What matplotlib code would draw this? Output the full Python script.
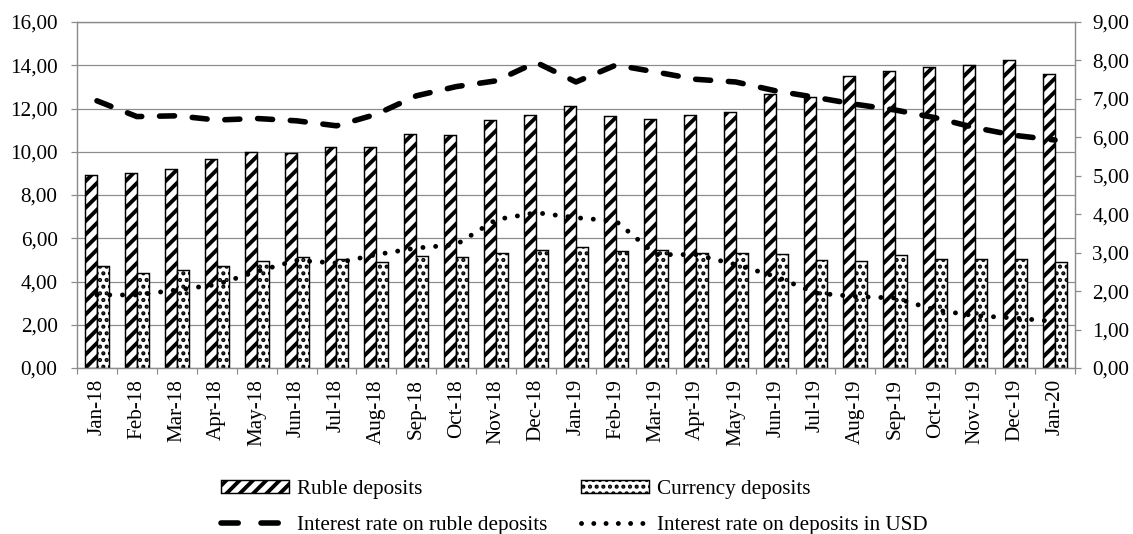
import numpy as np
import matplotlib as mpl
import matplotlib.pyplot as plt
from matplotlib.lines import Line2D
from matplotlib.patches import Patch

months = ['Jan-18', 'Feb-18', 'Mar-18', 'Apr-18', 'May-18', 'Jun-18', 'Jul-18', 'Aug-18',
          'Sep-18', 'Oct-18', 'Nov-18', 'Dec-18', 'Jan-19', 'Feb-19', 'Mar-19', 'Apr-19',
          'May-19', 'Jun-19', 'Jul-19', 'Aug-19', 'Sep-19', 'Oct-19', 'Nov-19', 'Dec-19', 'Jan-20']
ruble_dep = [8.93, 9.04, 9.21, 9.66, 9.99, 9.95, 10.23, 10.20, 10.82, 10.79, 11.48, 11.71, 12.10,
             11.67, 11.51, 11.70, 11.85, 12.69, 12.51, 13.49, 13.72, 13.90, 14.00, 14.24, 13.61]
currency_dep = [4.72, 4.41, 4.54, 4.72, 4.95, 5.14, 5.05, 4.89, 5.19, 5.12, 5.31, 5.46, 5.59,
                5.43, 5.45, 5.31, 5.31, 5.26, 5.00, 4.97, 5.23, 5.05, 5.03, 5.03, 4.88]
rate_rub = [6.95, 6.54, 6.56, 6.45, 6.49, 6.43, 6.30, 6.60, 7.08, 7.32, 7.47, 7.95, 7.44,
            7.88, 7.70, 7.51, 7.44, 7.21, 7.04, 6.86, 6.71, 6.51, 6.25, 6.05, 5.93]
rate_usd = [1.90, 1.90, 2.03, 2.17, 2.51, 2.80, 2.73, 2.95, 3.12, 3.21, 3.86, 4.04, 3.91,
            3.82, 2.95, 2.95, 2.69, 2.38, 1.95, 1.86, 1.82, 1.51, 1.36, 1.30, 1.21]
left_ticks = [0, 2, 4, 6, 8, 10, 12, 14, 16]
right_ticks = [0, 1, 2, 3, 4, 5, 6, 7, 8, 9]
labels = ['Ruble deposits', 'Currency deposits',
          'Interest rate on ruble deposits', 'Interest rate on deposits in USD']

mpl.rcParams['font.family'] = 'Liberation Serif'
mpl.rcParams['font.size'] = 19
mpl.rcParams['hatch.linewidth'] = 3.5

grey = '#8c8c8c'
DPI = 80
STRIPE_LW, DOT_LW = 3.5, 2.5


def hatch_lw(patches, lw):
    # per-patch hatch width where the matplotlib version allows it
    for p in patches:
        if hasattr(p, 'set_hatch_linewidth'):
            p.set_hatch_linewidth(lw)


fig = plt.figure(figsize=(1133 / DPI, 534 / DPI), dpi=DPI)
ax = fig.add_axes([77 / 1133, 1 - 368 / 534, 998 / 1133, 346 / 534])

x = np.arange(len(months))
w = 0.3
bar_kw = dict(color='white', edgecolor='black', lw=1.3, zorder=2)
b1 = ax.bar(x - w / 2, ruble_dep, w, hatch='//', **bar_kw)
b2 = ax.bar(x + w / 2, currency_dep, w, hatch='..', **bar_kw)
hatch_lw(b1, STRIPE_LW)
hatch_lw(b2, DOT_LW)

ax.set_xlim(-0.5, len(months) - 0.5)
ax.set_ylim(0, 16)
ax.set_yticks(left_ticks)
ax.set_yticklabels([('%.2f' % v).replace('.', ',') for v in left_ticks])
ax.set_xticks(x)
ax.set_xticklabels(months, rotation=90)
ax.set_xticks(np.arange(-0.5, len(months)), minor=True)
ax.tick_params(axis='x', which='major', length=0, pad=10)
ax.tick_params(axis='x', which='minor', length=5, width=1.1, color=grey)
ax.tick_params(axis='y', length=5.5, width=1.1, color=grey, pad=12)
ax.yaxis.grid(True, color=grey, lw=1.1)
ax.set_axisbelow(True)
for s in ax.spines.values():
    s.set_color(grey)
    s.set_linewidth(1.1)

ax2 = ax.twinx()
ax2.plot(x, rate_rub, color='black', lw=5, dashes=(2.7, 3.2),
         dash_capstyle='round', solid_joinstyle='round')
ax2.plot(x, rate_usd, color='black', lw=4.4, dashes=(0.01, 2.6),
         dash_capstyle='round')
ax2.set_ylim(0, 9)
ax2.set_yticks(right_ticks)
ax2.set_yticklabels([('%.2f' % v).replace('.', ',') for v in right_ticks])
ax2.tick_params(axis='y', length=5.5, width=1.1, color=grey, pad=10)
for s in ax2.spines.values():
    s.set_color(grey)
    s.set_linewidth(1.1)

handles = [
    Patch(facecolor='white', edgecolor='black', hatch='//', lw=1.3),
    Line2D([], [], color='black', lw=5, dashes=(3.1, 4.1), dash_capstyle='round'),
    Patch(facecolor='white', edgecolor='black', hatch='..', lw=1.3),
    Line2D([], [], color='black', lw=4.4, dashes=(0.01, 2.5), dash_capstyle='round'),
]
leg = fig.legend(handles, [labels[0], labels[2], labels[1], labels[3]], ncol=2,
                 loc='center', bbox_to_anchor=(0.507, 0.050), frameon=False,
                 handlelength=3.2, handletextpad=0.38, columnspacing=1.6,
                 labelspacing=0.8, borderpad=0, handleheight=0.6)
for p in leg.get_patches():
    if p.get_hatch() == '//':
        hatch_lw([p], STRIPE_LW)
    elif p.get_hatch() == '..':
        hatch_lw([p], DOT_LW)

fig.savefig('out.png', dpi=DPI)
